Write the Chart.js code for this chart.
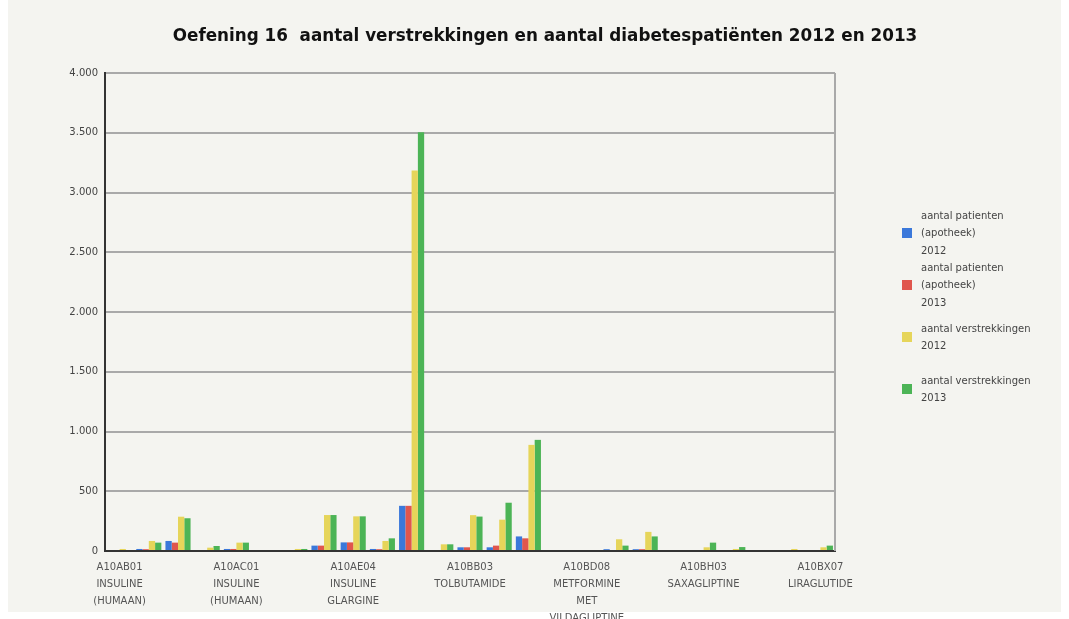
<!DOCTYPE html>
<html>
<head>
<meta charset="utf-8">
<script src="https://cdn.jsdelivr.net/npm/chart.js@4.4.1/dist/chart.umd.min.js"></script>
<style>
  body { margin: 0; background: #ffffff; font-family: "DejaVu Sans", sans-serif; }
  #panel { position: absolute; left: 8px; top: 0; width: 1053px; height: 612px; background: #f4f4f0; }
  #wrap { position: absolute; left: 0; top: 0; width: 1069px; height: 619px; }
  #title { position: absolute; top: 25px; left: 0; width: 1090px; text-align: center;
    font: bold 16.8px "DejaVu Sans", sans-serif; color: #111; white-space: pre; }
  #legend { position: absolute; left: 902px; top: 207px; }
  .item { height: 52px; display: flex; align-items: center; }
  .box { width: 10px; height: 10px; margin-right: 9px; }
  .txt { font: 10px "DejaVu Sans", sans-serif; color: #444; line-height: 17.5px; }
</style>
</head>
<body>
<div id="panel"></div>
<div id="wrap"><canvas id="chart" width="1069" height="619"></canvas></div>
<div id="title">Oefening 16  aantal verstrekkingen en aantal diabetespatiënten 2012 en 2013</div>
<div id="legend"></div>
<script>
// categorieën: alleen elke 4e naam staat op de as
const categories = [
  ["A10AB01", "INSULINE", "(HUMAAN)"], "", "", "",
  ["A10AC01", "INSULINE", "(HUMAAN)"], "", "", "",
  ["A10AE04", "INSULINE", "GLARGINE"], "", "", "",
  ["A10BB03", "TOLBUTAMIDE"], "", "", "",
  ["A10BD08", "METFORMINE", "MET", "VILDAGLIPTINE"], "", "", "",
  ["A10BH03", "SAXAGLIPTINE"], "", "", "",
  ["A10BX07", "LIRAGLUTIDE"]
];

const patienten2012 = [0, 17, 84, 0, 17, 0, 0, 45, 72, 17, 378, 0, 31, 31, 122, 0, 0, 15, 15, 0, 0, 0, 0, 0, 0];
const patienten2013 = [0, 15, 70, 0, 17, 0, 0, 45, 72, 15, 378, 0, 31, 45, 106, 0, 0, 0, 15, 0, 0, 0, 0, 0, 0];
const verstrekkingen2012 = [17, 84, 287, 28, 70, 0, 17, 301, 290, 84, 3185, 56, 300, 262, 888, 0, 0, 98, 160, 0, 31, 17, 0, 17, 31];
const verstrekkingen2013 = [0, 70, 274, 42, 70, 0, 17, 301, 290, 106, 3505, 56, 288, 404, 930, 0, 0, 45, 122, 0, 70, 33, 0, 0, 45];

const seriesLabels = [
  ["aantal patienten", "(apotheek)", "2012"],
  ["aantal patienten", "(apotheek)", "2013"],
  ["aantal verstrekkingen", "2012"],
  ["aantal verstrekkingen", "2013"]
];
const seriesColors = ["#3b78da", "#e0564d", "#e6d55a", "#4cb456"];

const yTicks = [0, 500, 1000, 1500, 2000, 2500, 3000, 3500, 4000];

function fmt(v) {
  return String(v).replace(/\B(?=(\d{3})+(?!\d))/g, ".");
}

// rechterrand van het plotvlak
const plotBorder = {
  id: "plotBorder",
  beforeDatasetsDraw(chart) {
    const a = chart.chartArea;
    const ctx = chart.ctx;
    ctx.save();
    ctx.strokeStyle = "#a9a9a9";
    ctx.lineWidth = 2;
    ctx.beginPath();
    ctx.moveTo(a.right, a.top);
    ctx.lineTo(a.right, a.bottom);
    ctx.stroke();
    ctx.restore();
  }
};

const allData = [patienten2012, patienten2013, verstrekkingen2012, verstrekkingen2013];

const chart = new Chart(document.getElementById("chart").getContext("2d"), {
  type: "bar",
  data: {
    labels: categories,
    datasets: allData.map((d, i) => ({
      label: seriesLabels[i].join(" "),
      data: d,
      backgroundColor: seriesColors[i],
      borderWidth: 0,
      categoryPercentage: 0.86,
      barPercentage: 1.0
    }))
  },
  options: {
    responsive: false,
    animation: false,
    layout: { padding: { left: 0, right: 234, top: 73, bottom: 0 } },
    plugins: {
      legend: { display: false },
      title: { display: false },
      tooltip: { enabled: false }
    },
    scales: {
      x: {
        afterFit: (s) => { s.height = 68; },
        grid: { display: false },
        border: { display: true, color: "#333", width: 2 },
        ticks: {
          autoSkip: false,
          maxRotation: 0,
          minRotation: 0,
          padding: 0,
          color: "#555",
          font: { family: "DejaVu Sans", size: 10, lineHeight: 1.7 }
        }
      },
      y: {
        min: 0,
        max: 4000,
        afterFit: (s) => { s.width = 105; },
        afterBuildTicks: (s) => { s.ticks = yTicks.map((v) => ({ value: v })); },
        grid: { color: "#a9a9a9", lineWidth: 2, drawTicks: false },
        border: { display: true, color: "#333", width: 2 },
        ticks: {
          padding: 7,
          color: "#444",
          font: { family: "DejaVu Sans", size: 10 },
          callback: (v) => fmt(v)
        }
      }
    }
  },
  plugins: [plotBorder]
});

// legenda in html, tekst over meerdere regels
const legend = document.getElementById("legend");
chart.data.datasets.forEach((ds, i) => {
  const item = document.createElement("div");
  item.className = "item";
  item.innerHTML = '<div class="box" style="background:' + ds.backgroundColor + '"></div>' +
    '<div class="txt">' + seriesLabels[i].join("<br>") + "</div>";
  legend.appendChild(item);
});
</script>
</body>
</html>
